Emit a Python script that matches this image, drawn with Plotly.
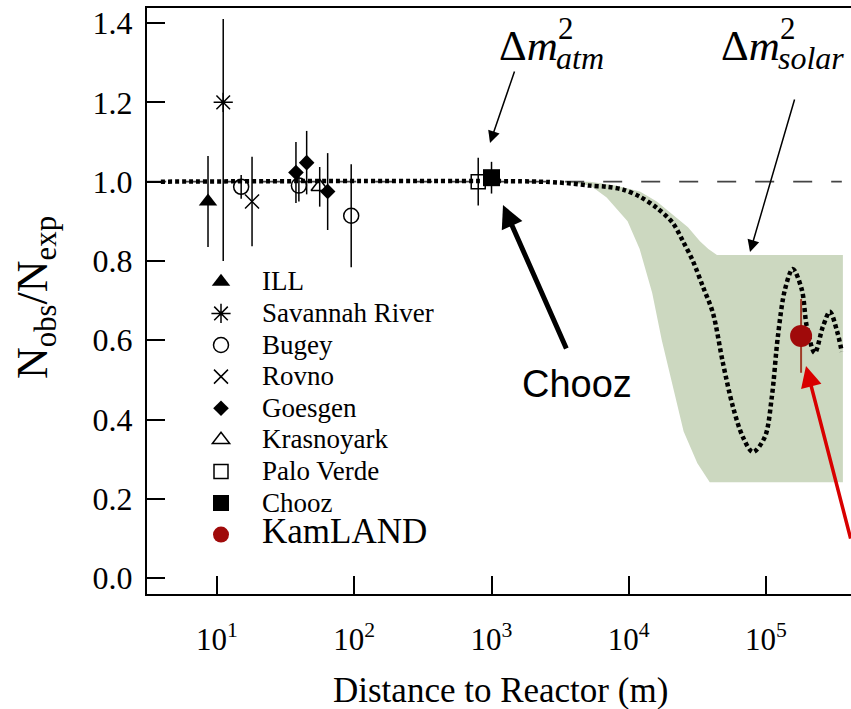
import plotly.graph_objects as go

# ---------------- data ----------------
ill_dist = [8.6]
ill_ratio = [0.95]
ill_err = [0.115]

savannah_dist = [11.1]
savannah_ratio = [1.20]
savannah_err_up = [0.21]
savannah_err_down = [0.40]

bugey_dist = [15.0, 39.5, 95.0]
bugey_ratio = [0.987, 0.99, 0.914]
bugey_err = [0.03, 0.04, 0.13]

rovno_dist = [18.0]
rovno_ratio = [0.95]
rovno_err = [0.113]

goesgen_dist = [37.6, 45.0, 64.0]
goesgen_ratio = [1.023, 1.048, 0.975]
goesgen_err = [0.077, 0.08, 0.097]

krasnoyark_dist = [56.0]
krasnoyark_ratio = [0.987]
krasnoyark_err = [0.05]

paloverde_dist = [800.0]
paloverde_ratio = [1.0]
paloverde_err = [0.06]

chooz_dist = [1000.0]
chooz_ratio = [1.01]
chooz_err = [0.04]

kamland_dist = [180000.0]
kamland_ratio = [0.611]
kamland_err = [0.093]

# oscillation expectation (dotted curve)
curve_dist = [3.9, 2250, 3920, 5210, 6920, 9060, 12050, 16000, 20900, 24800,
              29300, 34700, 41000, 48500, 57400, 67800, 80200, 98000, 110200,
              121900, 137100, 156700, 182400, 198200, 226500, 259400, 291700,
              327300, 356500]
curve_ratio = [1.0, 1.0, 0.995, 0.99, 0.987, 0.98, 0.962, 0.934, 0.896, 0.85,
               0.80, 0.735, 0.669, 0.543, 0.432, 0.356, 0.318, 0.356, 0.457,
               0.609, 0.727, 0.78, 0.727, 0.634, 0.568, 0.634, 0.672,
               0.626, 0.571]

# allowed band for solar delta m^2 (outline: upper edge then lower edge back)
band_dist = [3200, 5210, 8000, 12050, 16000, 20900, 27000, 33000, 38000, 43900,
             50000, 363000, 363000, 38900, 31600, 25100, 21400, 17400, 14800,
             12000, 9800, 6900, 5250, 3200]
band_ratio = [1.0, 1.0, 0.99, 0.975, 0.95, 0.917, 0.885, 0.85, 0.83, 0.815,
              0.815, 0.815, 0.242, 0.242, 0.29, 0.37, 0.47, 0.60, 0.72,
              0.83, 0.90, 0.96, 0.99, 1.0]

no_osc_dist = [3.1, 356500]
no_osc_ratio = [1.0, 1.0]

x_tickvals = [10, 100, 1000, 10000, 100000]
x_ticktext = ["10<sup>1</sup>", "10<sup>2</sup>", "10<sup>3</sup>", "10<sup>4</sup>", "10<sup>5</sup>"]
y_tickvals = [0.0, 0.2, 0.4, 0.6, 0.8, 1.0, 1.2, 1.4]
y_ticktext = ["0.0", "0.2", "0.4", "0.6", "0.8", "1.0", "1.2", "1.4"]

SERIF = "Liberation Serif"
SANS = "Liberation Sans"

fig = go.Figure()

# band
fig.add_trace(go.Scatter(x=band_dist, y=band_ratio, mode="lines", fill="toself",
                         fillcolor="#ccd8c0", line=dict(width=0), hoverinfo="skip",
                         showlegend=False))
# no-oscillation dashed line
fig.add_trace(go.Scatter(x=no_osc_dist, y=no_osc_ratio, mode="lines",
                         line=dict(color="#444444", width=1.6, dash="19px,19px"),
                         showlegend=False))
# dotted expectation
fig.add_trace(go.Scatter(x=curve_dist, y=curve_ratio, mode="lines",
                         line=dict(color="black", width=4.5, dash="4px,3px", shape="spline", smoothing=0.9),
                         showlegend=False))


def errbars(x, y, plus, minus=None, color="black", width=1.5):
    ey = dict(type="data", array=plus, color=color, thickness=width, width=0)
    if minus is not None:
        ey["symmetric"] = False
        ey["arrayminus"] = minus
    fig.add_trace(go.Scatter(x=x, y=y, mode="markers",
                             marker=dict(size=2, color="rgba(0,0,0,0)"),
                             error_y=ey, showlegend=False, hoverinfo="skip"))


errbars(ill_dist, ill_ratio, ill_err)
errbars(savannah_dist, savannah_ratio, savannah_err_up, savannah_err_down)
errbars(bugey_dist, bugey_ratio, bugey_err)
errbars(rovno_dist, rovno_ratio, rovno_err)
errbars(goesgen_dist, goesgen_ratio, goesgen_err)
errbars(krasnoyark_dist, krasnoyark_ratio, krasnoyark_err)
errbars(paloverde_dist, paloverde_ratio, paloverde_err)
errbars(chooz_dist, chooz_ratio, chooz_err)
errbars(kamland_dist, kamland_ratio, kamland_err, color="#a03c28", width=2)


def lname(t, size=27):
    return '<span style="font-size:%dpx">%s</span>' % (size, t)


def pts(x, y, name, symbol, size, color="black", lw=1.5):
    fig.add_trace(go.Scatter(x=x, y=y, mode="markers", name=name,
                             marker=dict(symbol=symbol, size=size, color=color,
                                         line=dict(color=color, width=lw))))


pts(ill_dist, ill_ratio, lname("ILL"), "triangle-up", 16, lw=0)
pts(savannah_dist, savannah_ratio, lname("Savannah River"), "asterisk-open", 16)
pts(bugey_dist, bugey_ratio, lname("Bugey"), "circle-open", 15)
pts(rovno_dist, rovno_ratio, lname("Rovno"), "x-thin-open", 14)
pts(goesgen_dist, goesgen_ratio, lname("Goesgen"), "diamond", 12, lw=0)
pts(krasnoyark_dist, krasnoyark_ratio, lname("Krasnoyark"), "triangle-up-open", 15)
pts(paloverde_dist, paloverde_ratio, lname("Palo Verde"), "square-open", 14)
pts(chooz_dist, chooz_ratio, lname("Chooz"), "square", 17, lw=0)
pts(kamland_dist, kamland_ratio, lname("KamLAND", 35), "circle", 22, color="#a00a0a", lw=0)

L, T, B = 147, 8, 115
PW, PH = 851 - L, 709 - T - B


def px_x(p):
    return (p - L) / PW


def px_y(p):
    return (709 - B - p) / PH


ann = []
# axis titles
ann.append(dict(x=px_x(500), y=px_y(690), xref="paper", yref="paper", showarrow=False,
                text="Distance to Reactor (m)", font=dict(family=SERIF, size=35, color="black"),
                xanchor="center", yanchor="middle"))
ann.append(dict(x=px_x(35), y=px_y(298), xref="paper", yref="paper", showarrow=False,
                text="N<sub>obs</sub>/N<sub>exp</sub>", textangle=-90,
                font=dict(family=SERIF, size=44, color="black"),
                xanchor="center", yanchor="middle"))
# delta m^2 labels
for left, sub, supx in [(497, "atm", 556), (719, "solar", 778)]:
    ann.append(dict(x=px_x(left), y=px_y(45), xref="paper", yref="paper", showarrow=False,
                    text="\u0394<i>m</i>", font=dict(family=SERIF, size=43, color="black"),
                    xanchor="left", yanchor="middle"))
    ann.append(dict(x=px_x(supx), y=px_y(29), xref="paper", yref="paper", showarrow=False,
                    text="2", font=dict(family=SERIF, size=31, color="black"),
                    xanchor="left", yanchor="middle"))
    ann.append(dict(x=px_x(supx - 2), y=px_y(58), xref="paper", yref="paper", showarrow=False,
                    text="<i>%s</i>" % sub, font=dict(family=SERIF, size=32, color="black"),
                    xanchor="left", yanchor="middle"))
# "Chooz" label
ann.append(dict(x=px_x(577), y=px_y(384), xref="paper", yref="paper", showarrow=False,
                text="Chooz", font=dict(family=SANS, size=38, color="black"),
                xanchor="center", yanchor="middle"))
# arrows (head position in paper coords, tail as pixel offset)
arrows = [
    (490, 143, 25, -73, 1.5, 1.6, "black"),
    (750, 252, 45, -154, 1.5, 1.6, "black"),
    (503, 205, 64, 145, 5, 0.9, "black"),
    (806, 366, 56, 174, 3.5, 1.2, "#d80000"),
]
for hx, hy, ax, ay, w, s, c in arrows:
    ann.append(dict(x=px_x(hx), y=px_y(hy), xref="paper", yref="paper", text="",
                    showarrow=True, ax=ax, ay=ay, arrowhead=2, arrowwidth=w,
                    arrowsize=s, arrowcolor=c))

fig.update_layout(
    width=851, height=709,
    margin=dict(l=L, r=0, t=T, b=B, pad=0),
    paper_bgcolor="white", plot_bgcolor="white",
    font=dict(family=SERIF, color="black"),
    showlegend=True,
    legend=dict(x=px_x(180), y=px_y(261), xanchor="left", yanchor="top",
                bgcolor="rgba(0,0,0,0)", font=dict(family=SERIF, size=22, color="black"),
                itemwidth=72, tracegroupgap=0, itemclick=False),
    annotations=ann,
    xaxis=dict(type="log", range=[0.49, 5.619], tickvals=x_tickvals, ticktext=x_ticktext,
               ticks="inside", ticklen=18, tickwidth=1.5, tickcolor="black",
               showline=True, linewidth=2, linecolor="black", mirror=True,
               showgrid=False, zeroline=False, ticklabelstandoff=17,
               tickfont=dict(family=SERIF, size=31, color="black")),
    yaxis=dict(range=[-0.040, 1.438], tickvals=y_tickvals, ticktext=y_ticktext,
               ticks="inside", ticklen=18, tickwidth=1.5, tickcolor="black",
               showline=True, linewidth=2, linecolor="black", mirror=False,
               showgrid=False, zeroline=False, ticklabelstandoff=6,
               tickfont=dict(family=SERIF, size=32, color="black")),
)

fig.write_html("out.html")
